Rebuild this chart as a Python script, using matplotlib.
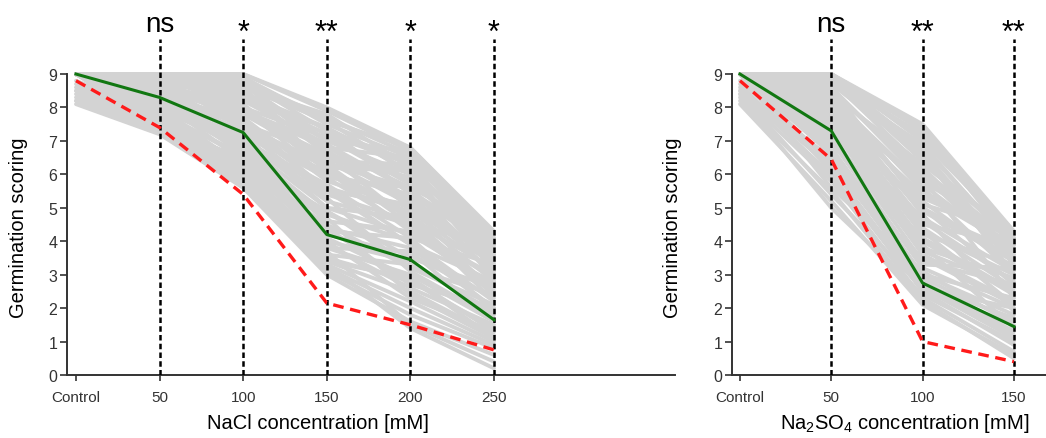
import matplotlib.pyplot as plt

plt.rcParams['font.family'] = ['Liberation Sans', 'DejaVu Sans']
plt.rcParams['mathtext.default'] = 'regular'

# NaCl panel
nacl_x = [0, 50, 100, 150, 200, 250]
nacl_ticks = ['Control', '50', '100', '150', '200', '250']
nacl_sig = ['ns', '*', '**', '*', '*']
nacl_green = [9.0, 8.3, 7.25, 4.2, 3.45, 1.65]
nacl_red = [8.8, 7.4, 5.4, 2.15, 1.5, 0.75]
nacl_gray = [
    [9, 9, 9, 8.0, 6.8, 4.3],
    [9, 9, 9, 7.9, 6.7, 4.1],
    [9, 9, 8.9, 7.6, 6.8, 4.2],
    [9, 9, 8.8, 7.3, 6.4, 4.0],
    [9, 8.9, 8.6, 7.8, 6.2, 3.9],
    [9, 9, 8.5, 7.0, 6.0, 4.2],
    [9, 8.8, 8.3, 6.8, 6.5, 3.8],
    [9, 8.7, 8.4, 7.2, 5.8, 3.6],
    [9, 8.9, 8.0, 6.5, 5.9, 3.5],
    [9, 8.6, 8.2, 6.9, 5.5, 3.9],
    [9, 8.5, 7.9, 6.3, 5.6, 3.2],
    [9, 8.8, 7.8, 6.6, 5.2, 3.4],
    [9, 8.4, 7.6, 6.0, 5.4, 3.0],
    [9, 8.7, 7.7, 5.8, 5.0, 3.3],
    [9, 8.3, 7.5, 6.2, 4.8, 2.8],
    [9, 8.6, 7.4, 5.6, 4.9, 3.1],
    [9, 8.2, 7.3, 5.4, 4.6, 2.6],
    [9, 8.5, 7.2, 5.9, 4.4, 2.9],
    [9, 8.1, 7.0, 5.2, 4.5, 2.4],
    [9, 8.4, 6.9, 5.0, 4.2, 2.7],
    [9, 8.0, 6.8, 4.8, 4.0, 2.2],
    [9, 8.3, 6.6, 4.6, 4.3, 2.5],
    [9, 7.9, 6.5, 4.4, 3.8, 2.0],
    [9, 8.2, 6.4, 4.2, 3.6, 2.3],
    [8.8, 7.8, 6.3, 4.0, 3.4, 1.8],
    [9, 8.0, 6.2, 4.5, 3.2, 2.1],
    [8.7, 7.7, 6.0, 3.8, 3.0, 1.6],
    [9, 7.9, 5.9, 3.6, 3.3, 1.9],
    [8.5, 7.6, 5.8, 3.5, 2.8, 1.4],
    [9, 7.8, 6.1, 3.9, 2.6, 1.5],
    [8.4, 7.5, 5.7, 3.4, 2.5, 1.2],
    [9, 7.4, 5.6, 3.3, 2.2, 1.0],
    [8.2, 7.3, 5.9, 3.2, 2.0, 0.9],
    [9, 7.6, 5.7, 3.1, 1.8, 0.8],
    [8.1, 7.2, 5.6, 3.0, 1.6, 0.6],
    [9, 7.5, 6.0, 3.7, 1.5, 0.4],
    [8.2, 7.3, 5.8, 3.3, 1.4, 0.2],
    [9, 8.1, 6.7, 4.7, 2.4, 1.1],
    [9, 8.6, 7.1, 5.3, 3.1, 1.7],
    [9, 8.8, 7.6, 5.5, 3.9, 2.0],
    [9, 8.9, 8.1, 6.1, 4.7, 2.5],
    [9, 9, 8.7, 6.7, 5.3, 3.0],
    [9, 9, 8.4, 7.4, 6.1, 3.7],
    [9, 8.7, 8.0, 7.1, 5.7, 4.0],
    [9, 8.4, 7.3, 6.4, 5.1, 3.5],
    [9, 8.1, 7.0, 5.7, 4.1, 3.3],
    [9, 7.7, 6.3, 4.9, 3.5, 2.6],
    [8.5, 7.4, 6.5, 4.1, 2.9, 1.3],
    [9, 9, 8.8, 7.7, 6.6, 4.1],
    [9, 8.5, 7.8, 6.4, 6.3, 3.4],
    [9, 9, 8.9, 7.5, 6.5, 3.8],
    [9, 9, 8.6, 7.6, 6.0, 4.0],
    [9, 8.9, 8.7, 7.0, 6.7, 3.6],
    [9, 9, 8.3, 7.2, 6.3, 4.2],
    [9, 8.8, 8.5, 6.6, 5.9, 3.3],
    [9, 8.9, 8.2, 7.4, 5.4, 3.8],
    [9, 8.7, 8.6, 6.2, 6.1, 3.1],
    [9, 8.6, 7.9, 6.9, 5.0, 3.6],
    [9, 8.5, 8.0, 5.9, 5.6, 2.9],
    [9, 8.4, 7.5, 6.6, 4.6, 3.2],
    [9, 8.3, 7.7, 5.5, 5.1, 2.4],
    [9, 8.2, 7.1, 6.1, 4.3, 3.0],
    [9, 8.0, 7.2, 5.0, 4.7, 2.2],
    [9, 7.9, 6.9, 5.6, 3.9, 2.8],
    [9, 7.8, 6.6, 4.3, 4.1, 1.9],
    [8.6, 7.6, 6.4, 4.9, 3.2, 2.4],
    [9, 7.5, 6.2, 3.8, 3.7, 1.6],
    [8.3, 7.4, 6.1, 4.4, 2.7, 2.0],
    [9, 7.7, 5.8, 3.4, 2.9, 1.1],
    [9, 8.1, 6.9, 4.0, 2.3, 1.3],
    [9, 8.9, 7.4, 6.3, 4.5, 3.9],
    [9, 9, 7.9, 6.8, 5.6, 4.3],
]

# Na2SO4 panel
na2so4_x = [0, 50, 100, 150]
na2so4_ticks = ['Control', '50', '100', '150']
na2so4_sig = ['ns', '**', '**']
na2so4_green = [9.0, 7.3, 2.75, 1.45]
na2so4_red = [8.8, 6.45, 1.0, 0.4]
na2so4_gray = [
    [9, 9, 7.5, 4.3],
    [9, 9, 7.4, 4.1],
    [9, 9, 7.0, 4.2],
    [9, 8.9, 6.8, 3.9],
    [9, 9, 6.5, 4.0],
    [9, 8.8, 6.2, 3.6],
    [9, 8.7, 6.9, 3.8],
    [9, 8.6, 5.8, 4.1],
    [9, 8.5, 6.0, 3.4],
    [9, 8.4, 5.5, 3.9],
    [9, 8.3, 5.2, 3.2],
    [9, 8.2, 5.6, 3.0],
    [9, 8.1, 4.9, 3.7],
    [9, 8.0, 4.6, 2.8],
    [9, 7.9, 5.0, 3.5],
    [9, 7.8, 4.4, 2.6],
    [9, 7.7, 4.2, 3.3],
    [9, 7.6, 4.0, 2.4],
    [9, 7.5, 3.8, 2.9],
    [9, 7.4, 3.6, 2.2],
    [9, 7.2, 3.4, 2.7],
    [9, 7.0, 3.2, 2.0],
    [9, 6.8, 3.0, 1.8],
    [9, 6.6, 2.9, 1.6],
    [8.8, 6.4, 2.8, 1.3],
    [8.6, 6.2, 2.6, 1.1],
    [8.5, 6.0, 2.5, 0.9],
    [8.4, 5.8, 2.3, 0.7],
    [8.2, 5.5, 2.2, 0.5],
    [8.1, 5.2, 2.1, 0.6],
    [8.3, 5.0, 2.4, 1.0],
    [9, 5.6, 3.1, 1.5],
    [9, 6.1, 3.5, 2.1],
    [9, 6.9, 4.1, 2.5],
    [9, 7.3, 4.7, 3.1],
    [9, 7.9, 5.4, 3.8],
    [9, 8.4, 6.3, 4.2],
    [9, 8.8, 7.2, 4.0],
    [9, 9, 6.7, 3.5],
    [9, 8.6, 5.9, 2.3],
    [9, 8.2, 4.8, 1.9],
    [9, 7.7, 3.9, 1.4],
    [8.5, 6.5, 2.7, 1.2],
    [9, 8.9, 6.6, 3.0],
    [9, 8.3, 5.1, 4.3],
    [9, 9, 7.3, 3.9],
    [9, 9, 7.1, 4.3],
    [9, 8.9, 6.4, 4.2],
    [9, 8.7, 6.6, 3.3],
    [9, 8.5, 6.1, 4.0],
    [9, 8.3, 5.7, 3.6],
    [9, 8.1, 5.3, 4.1],
    [9, 7.8, 4.9, 3.4],
    [9, 7.6, 4.5, 3.9],
    [9, 7.4, 4.3, 3.0],
    [9, 7.1, 3.7, 2.6],
    [9, 6.7, 3.3, 3.2],
    [9, 6.3, 3.0, 2.3],
    [8.7, 5.9, 2.7, 1.7],
    [8.4, 5.4, 2.6, 2.0],
    [9, 8.6, 5.0, 2.7],
    [9, 8.0, 4.3, 2.1],
    [9, 9, 6.0, 3.7],
]

W, H = 1046, 439
fig = plt.figure(figsize=(W / 100, H / 100), dpi=100)


def panel(px_left, px_right, x0_px, px_per_unit, x, ticks, sig, gray, green, red, xlabel, xlabel_px, ylabel_px):
    bottom, top = 376, 5
    unit_y = 33.44
    ax = fig.add_axes([px_left / W, (H - bottom) / H, (px_right - px_left) / W, (bottom - top) / H])
    ax.set_xlim((px_left - x0_px) / px_per_unit, (px_right - x0_px) / px_per_unit)
    ax.set_ylim(0, (bottom - top) / unit_y)
    for g in gray:
        ax.plot(x, g, color='#d3d3d3', lw=2.8, solid_capstyle='round', zorder=1)
    for xv in x[1:]:
        ax.plot([xv, xv], [0, 10.05], color='black', lw=1.8, ls=(0, (2.2, 1.3)), zorder=3)
    ax.plot(x, green, color='#117711', lw=2.2, zorder=4)
    ax.plot(x, red, color='#ff1a1a', lw=2.4, ls=(0, (3.2, 2.0)), zorder=5)
    for xv, s in zip(x[1:], sig):
        if s == 'ns':
            ax.text(xv, 10.3, s, ha='center', va='baseline', fontsize=20)
        else:
            ax.text(xv, 10.0, s, ha='center', va='baseline', fontsize=22)
    for side in ['top', 'right']:
        ax.spines[side].set_visible(False)
    ax.spines['left'].set_bounds(0, 9)
    for side in ['left', 'bottom']:
        ax.spines[side].set_color('#333333')
        ax.spines[side].set_linewidth(1.4)
    ax.set_yticks(range(10))
    ax.set_xticks(x)
    ax.set_xticklabels(ticks)
    ax.tick_params(axis='y', length=5, width=1.2, color='#333333', labelsize=11.5, labelcolor='#333333', pad=2)
    ax.tick_params(axis='x', length=4, width=1.2, color='#333333', labelsize=11, labelcolor='#333333', pad=7)
    fig.text(ylabel_px / W, (H - 228) / H, 'Germination scoring', rotation=90, ha='center', va='center', fontsize=14.5)
    fig.text(xlabel_px[0] / W, (H - 424) / H, xlabel, ha=xlabel_px[1], va='center', fontsize=14.5)
    return ax


panel(67, 675, 76, 83.6 / 50, nacl_x, nacl_ticks, nacl_sig, nacl_gray, nacl_green, nacl_red,
      'NaCl concentration [mM]', (318, 'center'), 19)
panel(732, 1046, 740, 91.3 / 50, na2so4_x, na2so4_ticks, na2so4_sig, na2so4_gray, na2so4_green, na2so4_red,
      'Na$_2$SO$_4$ concentration [mM]', (780, 'left'), 673)

fig.savefig('out.png', dpi=100)
